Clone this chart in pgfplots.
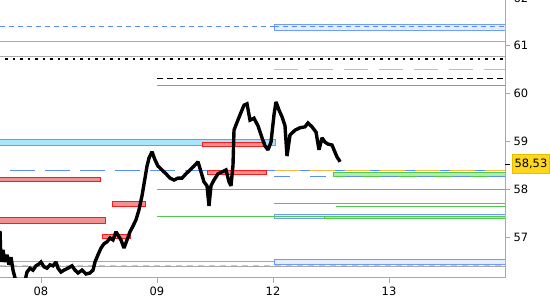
\documentclass[border=0pt]{standalone}
\usepackage{fontspec}
\setmainfont{DejaVu Sans}
\usepackage{pgfplots}
\pgfplotsset{compat=1.18}
\definecolor{lvblue}{HTML}{5A8CFF}
\definecolor{lvgray}{HTML}{A8A8A8}
\definecolor{lvlgray}{HTML}{C8C8C8}
\definecolor{lvcyanf}{HTML}{A8E6FF}
\definecolor{lvcyan}{HTML}{38B6F0}
\definecolor{lvred}{HTML}{FF1A1A}
\definecolor{lvredf}{HTML}{F59090}
\definecolor{lvgreen}{HTML}{50C850}
\definecolor{lvgreenf}{HTML}{B0EBA8}
\definecolor{lvorange}{HTML}{F5BA45}
\definecolor{lvblueb}{HTML}{6E9BFF}
\definecolor{lvbluef}{HTML}{E4EEFF}
\definecolor{lvgold}{HTML}{FFD71A}
\definecolor{lvgoldb}{HTML}{E8BE00}
\newcommand{\zone}[6]{\addplot[draw=#1, fill=#2, line width=1bp, forget plot] coordinates {(#3,#5) (#4,#5) (#4,#6) (#3,#6)} -- cycle;}
\newcommand{\hl}[4]{\addplot[#1, forget plot] coordinates {(#2,#4) (#3,#4)};}
\begin{document}
\begin{tikzpicture}
\begin{axis}[
  scale only axis, width=505bp, height=278bp,
  xmin=0, xmax=505, ymin=56.156, ymax=61.956,
  axis x line*=bottom, axis y line*=right,
  axis line style={lvgray, line width=1bp},
  tick style={lvgray, line width=0.8bp},
  tick align=outside, major tick length=5bp,
  xtick={41,157,273,389}, xticklabels={08,09,12,13},
  ytick={57,58,59,60,61},
  extra y ticks={58.53}, extra y tick labels={},
  extra y tick style={tick style={black, line width=0.9bp}},
  ticklabel style={font=\fontsize{11.5}{13}\selectfont, text=black},
  /pgf/number format/assume math mode=true,
  clip=true,
]
\coordinate (sw) at (rel axis cs:0,0);
\coordinate (ne) at (rel axis cs:1,1);
\coordinate (pr) at (axis cs:505,58.53);
\coordinate (t62) at (axis cs:505,62);
% horizontal levels
\hl{lvblue, line width=1bp, dash pattern=on 5bp off 4bp}{0}{505}{61.41}
\zone{lvblueb}{lvbluef}{274}{510}{61.32}{61.45}
\hl{lvblue, line width=1bp, dash pattern=on 5bp off 4bp}{274}{505}{61.40}
\hl{lvgray, line width=1bp}{0}{505}{61.09}
\hl{lvgray, line width=1bp}{0}{505}{60.77}
\hl{black, line width=2bp, dash pattern=on 2.5bp off 5bp}{5}{505}{60.73}
\hl{lvorange, line width=1bp, dash pattern=on 24bp off 11bp}{274}{505}{60.51}
\hl{black, line width=1bp, dash pattern=on 5.5bp off 4.5bp}{157}{505}{60.32}
\hl{lvgreen, line width=1bp}{157}{505}{60.18}
\zone{lvcyan}{lvcyanf}{-2}{275}{58.92}{59.04}
\zone{lvred}{lvredf}{202}{265}{58.90}{58.98}
\hl{lvblue, line width=1bp, dash pattern=on 25bp off 10bp}{10}{505}{58.40}
\hl{lvorange, line width=1bp, dash pattern=on 25bp off 10bp, dash phase=-10bp}{265}{505}{58.40}
\zone{lvgreen}{lvgreenf}{333}{510}{58.28}{58.35}
\hl{lvblue, line width=1bp, dash pattern=on 16bp off 20bp}{274}{505}{58.28}
\hl{lvgreen, line width=1bp}{157}{505}{58.01}
\zone{lvred}{lvredf}{-2}{100.7}{58.17}{58.25}
\zone{lvred}{lvredf}{207}{266.7}{58.31}{58.40}
\zone{lvred}{lvredf}{112}{145}{57.65}{57.76}
\hl{lvgreen, line width=1bp}{274}{505}{57.72}
\hl{lvgreen, line width=1bp}{336}{505}{57.65}
\zone{lvred}{lvredf}{-2}{105}{57.30}{57.41}
\hl{lvgreen, line width=1bp}{157}{274}{57.44}
\zone{lvblueb}{lvbluef}{274}{510}{57.39}{57.49}
\hl{lvgreen, line width=1bp}{274}{324}{57.43}
\zone{lvgreen}{lvgreenf}{324}{510}{57.39}{57.43}
\zone{lvred}{lvredf}{102}{130}{56.98}{57.07}
\zone{lvblueb}{lvbluef}{274}{510}{56.44}{56.55}
\hl{lvgray, line width=1bp}{0}{274}{56.50}
\hl{lvlgray, line width=1bp, dash pattern=on 6bp off 5bp}{0}{505}{56.42}
\hl{lvgray, line width=1bp}{0}{505}{56.39}
% price
\addplot[black, line width=3.4bp, line join=miter, miter limit=2, forget plot] coordinates {
(0,57.14) (1,56.49) (3,56.74) (5,56.49) (7,56.64) (9,56.43) (11,56.59) (13,56.32) (15,56.16)
(18,56.0) (24,56.0) (27,56.28) (30,56.36) (33,56.32) (36,56.41) (39,56.45) (41,56.49)
(44,56.39) (47,56.36) (50,56.43) (53,56.41) (56,56.49) (58,56.36) (61,56.28) (64,56.32)
(68,56.36) (72,56.41) (75,56.32) (78,56.26) (82,56.32) (86,56.24) (90,56.26) (93,56.32)
(95,56.49) (98,56.64) (101,56.78) (104,56.87) (107,56.91) (110,56.99) (113,56.95) (116,57.12)
(118,57.05) (121,56.95) (124,56.78) (127,56.95) (130,57.12) (133,57.24) (136,57.37) (139,57.58)
(142,57.87) (145,58.24) (147,58.49) (149,58.66) (152,58.79) (155,58.62) (158,58.49) (162,58.41)
(166,58.33) (170,58.24) (174,58.20) (178,58.24) (182,58.24) (186,58.33) (190,58.41) (194,58.49)
(198,58.58) (201,58.37) (204,58.16) (207,58.08) (209,57.66) (211,58.08) (214,58.20) (218,58.33)
(222,58.37) (226,58.41) (229,58.16) (231,58.08) (233,58.51) (234,59.24) (236,59.35) (240,59.56)
(244,59.76) (247,59.79) (250,59.45) (254,59.49) (258,59.33) (262,59.08) (265,58.91) (268,58.83)
(271,58.99) (274,59.56) (276,59.83) (279,59.66) (282,59.52) (285,59.33) (287,58.70) (290,59.14)
(295,59.24) (300,59.29) (305,59.31) (308,59.39) (312,59.31) (316,59.20) (319,58.83) (322,59.08)
(325,58.99) (328,58.95) (332,58.93) (335,58.78) (337,58.68) (339,58.62) (340,58.58)
};
\end{axis}
\node[anchor=west, fill=lvgold, draw=lvgoldb, line width=1bp, inner xsep=2.5bp, inner ysep=0pt,
  minimum height=19bp, font=\fontsize{11.5}{13}\selectfont] at ([xshift=6.5bp]pr) {58,53};
\draw[lvgray, line width=0.8bp] (t62) -- ++(5bp,0);
\node[anchor=west, font=\fontsize{11.5}{13}\selectfont] at ([xshift=5bp]t62) {62};
\pgfresetboundingbox
\path ([yshift=-22bp]sw) rectangle ([xshift=45bp]ne);
\end{tikzpicture}
\end{document}
